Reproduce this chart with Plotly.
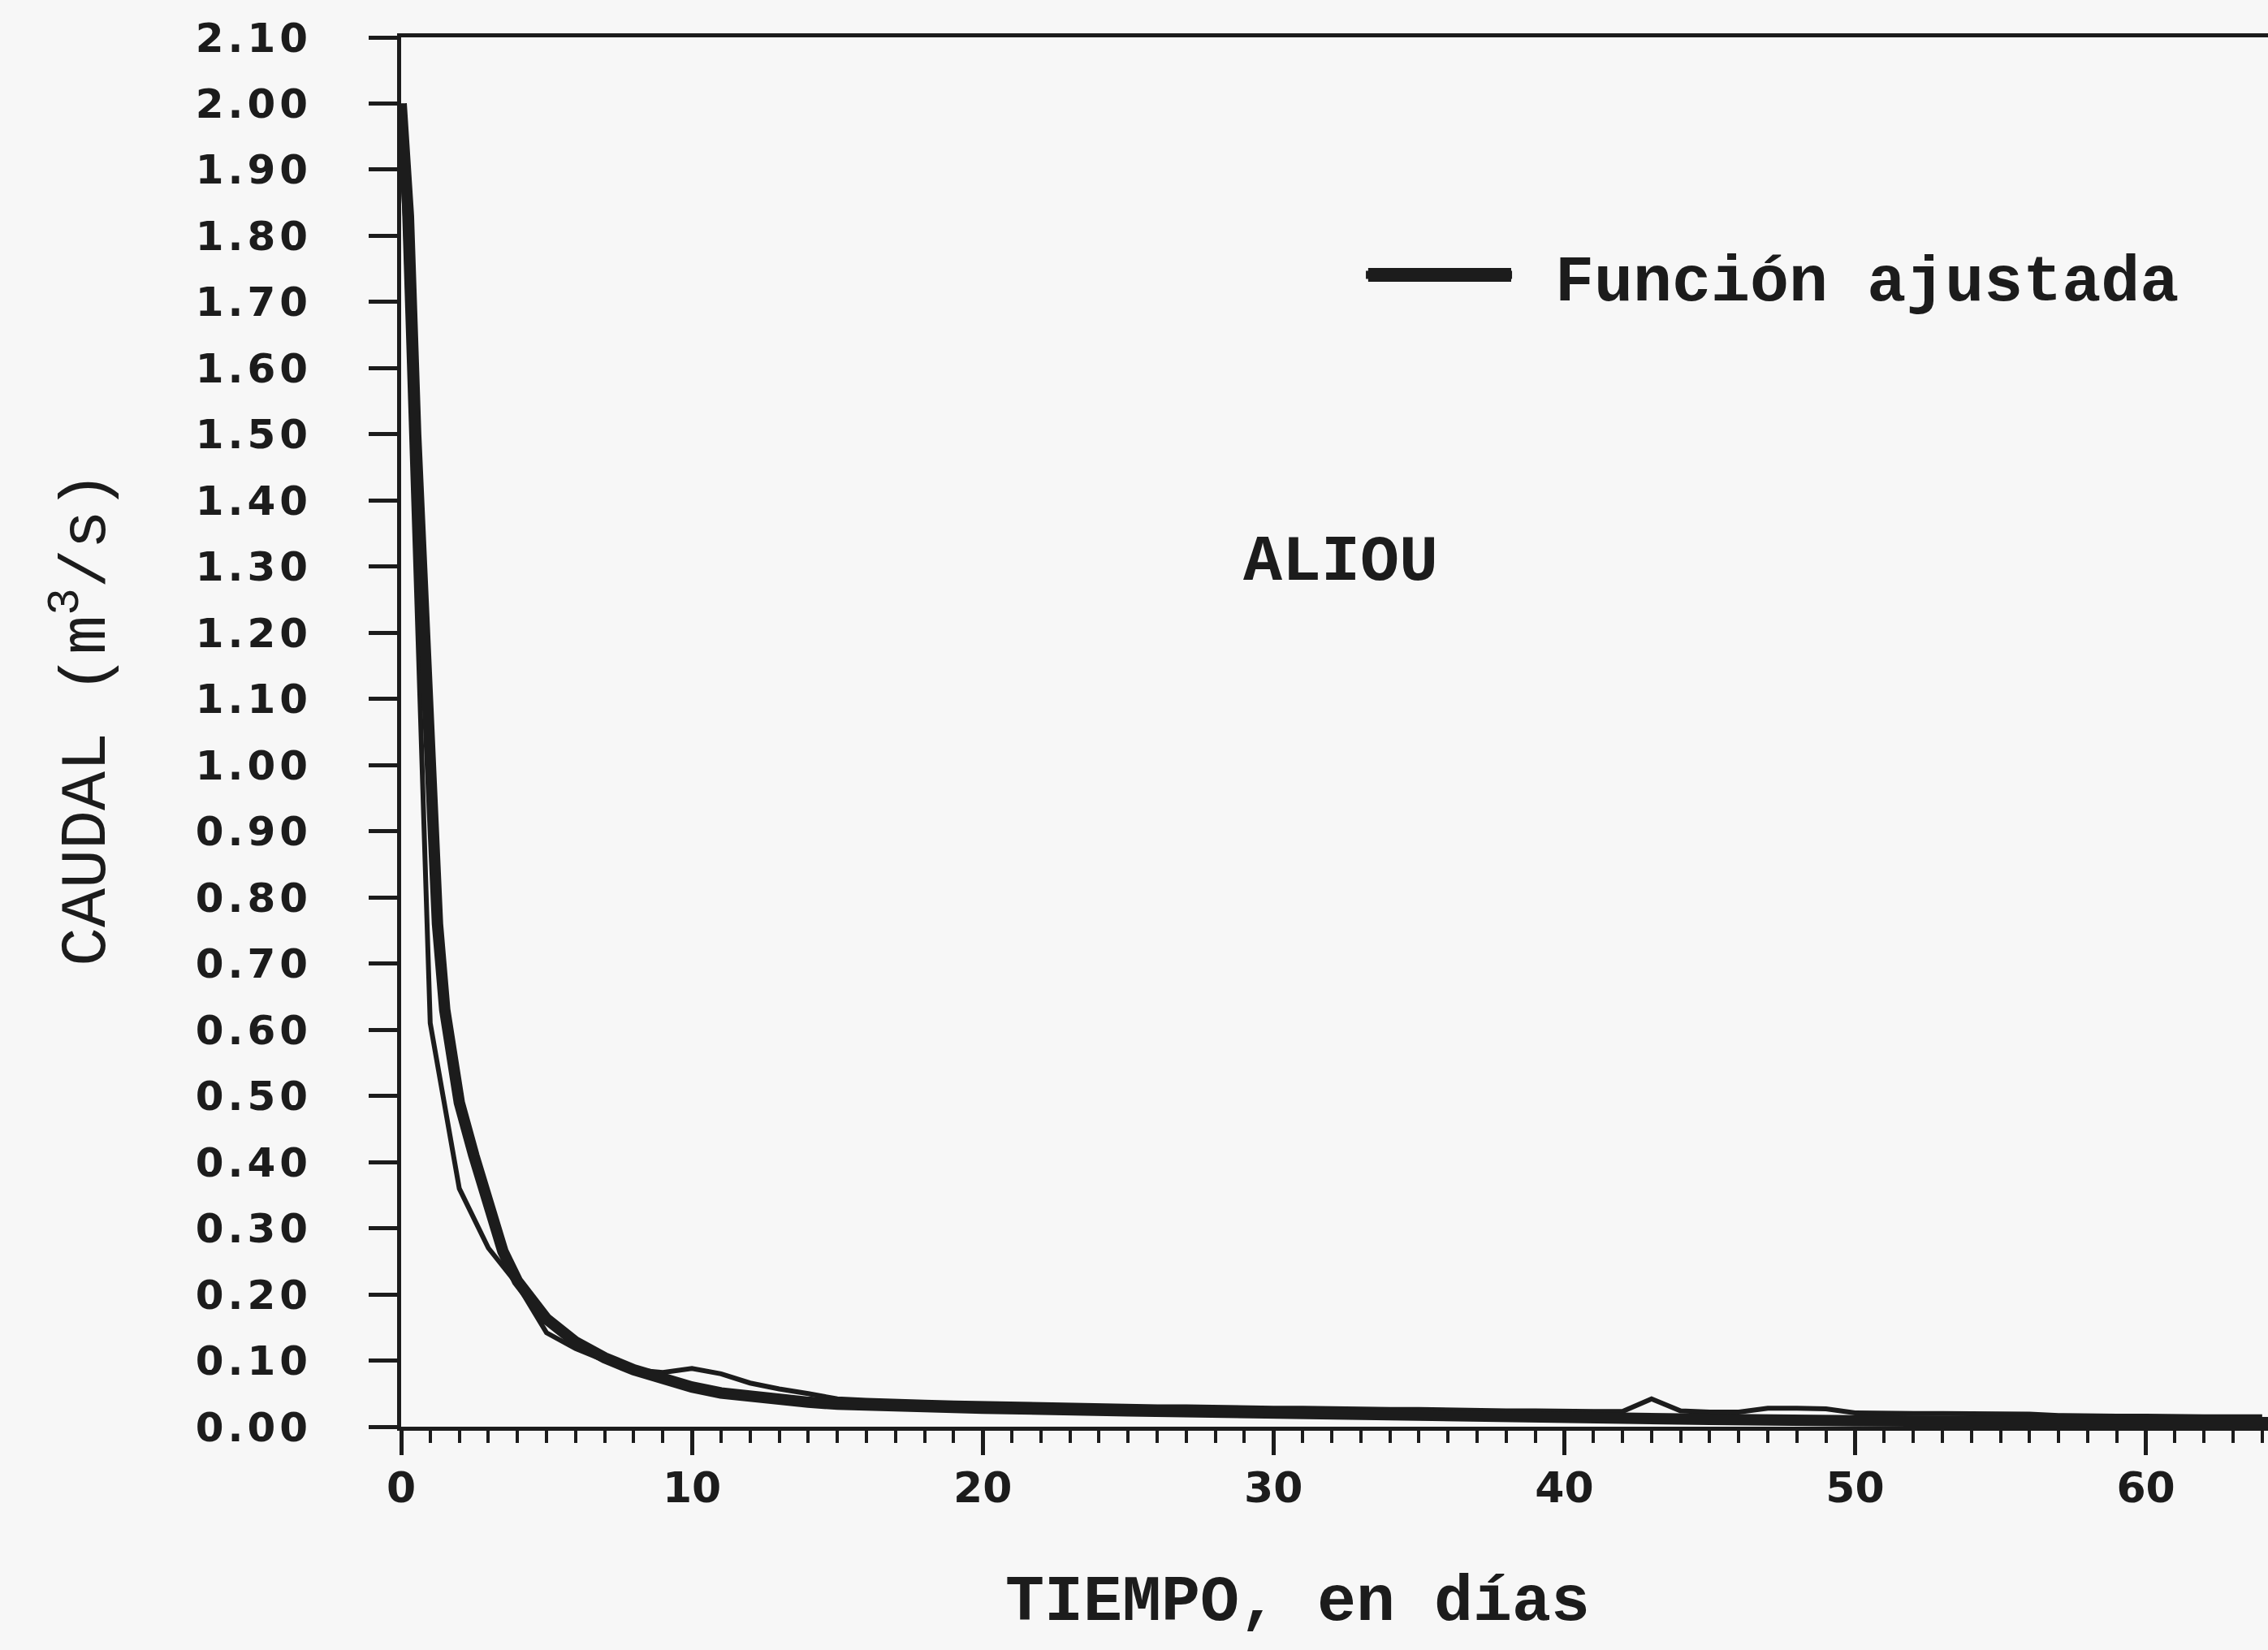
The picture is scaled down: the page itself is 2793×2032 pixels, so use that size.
import plotly.graph_objects as go

# ---------------- data ----------------
obs_days = list(range(0, 65))
obs_q = [2.00, 0.61, 0.36, 0.27, 0.215, 0.142, 0.118, 0.100, 0.086, 0.082,
         0.088, 0.080, 0.066, 0.057, 0.050, 0.042, 0.040, 0.038, 0.037, 0.036,
         0.035, 0.034, 0.033, 0.032, 0.032, 0.031, 0.030, 0.030, 0.029, 0.029,
         0.028, 0.028, 0.027, 0.027, 0.026, 0.026, 0.025, 0.025, 0.024, 0.024,
         0.023, 0.023, 0.023, 0.042, 0.024, 0.022, 0.022, 0.028, 0.028, 0.027,
         0.021, 0.020, 0.020, 0.020, 0.020, 0.019, 0.019, 0.017, 0.016, 0.016,
         0.016, 0.015, 0.015, 0.015, 0.015]

fit_days = [0, 0.25, 0.5, 0.75, 1.0, 1.25, 1.5, 1.75, 2.0, 2.5, 3.0, 3.5, 4.0,
            4.5, 5, 6, 7, 8, 9, 10, 11, 12, 13, 14, 15, 17, 20, 25, 30, 35,
            40, 45, 50, 55, 60, 64.2]
fit_q = [2.00, 1.83, 1.50, 1.23, 0.97, 0.76, 0.63, 0.55, 0.49, 0.41, 0.33,
         0.265, 0.22, 0.19, 0.163, 0.128, 0.104, 0.086, 0.072, 0.060, 0.051,
         0.045, 0.040, 0.037, 0.034, 0.031, 0.028, 0.024, 0.020, 0.017, 0.013,
         0.011, 0.009, 0.008, 0.007, 0.006]

y_tick_vals = [0.0, 0.1, 0.2, 0.3, 0.4, 0.5, 0.6, 0.7, 0.8, 0.9, 1.0, 1.1,
               1.2, 1.3, 1.4, 1.5, 1.6, 1.7, 1.8, 1.9, 2.0, 2.1]
y_tick_labels = ["0.00", "0.10", "0.20", "0.30", "0.40", "0.50", "0.60",
                 "0.70", "0.80", "0.90", "1.00", "1.10", "1.20", "1.30",
                 "1.40", "1.50", "1.60", "1.70", "1.80", "1.90", "2.00", "2.10"]
x_tick_vals = [0, 10, 20, 30, 40, 50, 60]
x_tick_labels = ["0", "10", "20", "30", "40", "50", "60"]

legend_label = "Función ajustada"
station_label = "ALIOU"
x_title = "TIEMPO, en días"
y_title = "CAUDAL (m<sup>3</sup>/s)"

# ---------------- figure ----------------
INK = "#1c1c1c"
BG = "#f7f7f7"
MONO = "Liberation Mono, Courier New, monospace"
TICKF = "DejaVu Sans, Arial, sans-serif"

fig = go.Figure()
fig.add_trace(go.Scatter(x=obs_days, y=obs_q, mode="lines",
                         line=dict(color=INK, width=6),
                         showlegend=False, name="Observado"))
fig.add_trace(go.Scatter(x=fit_days, y=fit_q, mode="lines",
                         line=dict(color=INK, width=14),
                         showlegend=True, name="\u00a0" + legend_label))

fig.add_annotation(x=32.3, y=1.307, xref="x", yref="y", text=station_label,
                   showarrow=False,
                   font=dict(family=MONO, size=80, color=INK, weight="bold"))

# axis titles placed where the reference has them
fig.add_annotation(x=0.480, y=-0.1268, xref="paper", yref="paper",
                   text=x_title, showarrow=False, xanchor="center", yanchor="middle",
                   font=dict(family=MONO, size=80, color=INK, weight="bold"))
fig.add_annotation(x=-0.171, y=0.5096, xref="paper", yref="paper",
                   text=y_title, showarrow=False, textangle=-90,
                   xanchor="center", yanchor="middle",
                   font=dict(family=MONO, size=80, color=INK, weight="normal"))

# thick legend key (the legend's own sample line is capped in width)
fig.add_shape(type="line", xref="paper", yref="paper",
              x0=0.5180, x1=0.5946, y0=0.829, y1=0.829,
              line=dict(color=INK, width=17), layer="above")

fig.update_xaxes(range=[0, 64.2], showline=True, linecolor=INK, linewidth=5,
                 mirror=True, ticks="outside", ticklen=30, tickwidth=5,
                 tickcolor=INK, tickvals=x_tick_vals, ticktext=x_tick_labels,
                 tickfont=dict(family=TICKF, size=52, color=INK, weight="bold"),
                 ticklabelstandoff=-4,
                 minor=dict(dtick=1, ticks="outside", ticklen=15, tickwidth=4,
                            tickcolor=INK, showgrid=False),
                 showgrid=False, zeroline=False)

fig.update_yaxes(range=[0, 2.1], showline=True, linecolor=INK, linewidth=5,
                 ticks="outside", ticklen=35, tickwidth=5, tickcolor=INK,
                 tickvals=y_tick_vals,
                 ticktext=['<span style="letter-spacing:5px">' + t + '</span>'
                           for t in y_tick_labels],
                 tickfont=dict(family=TICKF, size=50, color=INK, weight="bold"),
                 ticklabelstandoff=60,
                 showgrid=False, zeroline=False)

fig.update_layout(
    width=2793, height=2032,
    margin=dict(l=494, r=0, t=46, b=275, pad=0),
    paper_bgcolor=BG, plot_bgcolor=BG,
    showlegend=True,
    legend=dict(x=0.5146, y=0.829, xanchor="left", yanchor="middle",
                bgcolor="rgba(0,0,0,0)", itemwidth=180,
                font=dict(family=MONO, size=80, color=INK, weight="bold")),
)

fig.write_html("out.html")
